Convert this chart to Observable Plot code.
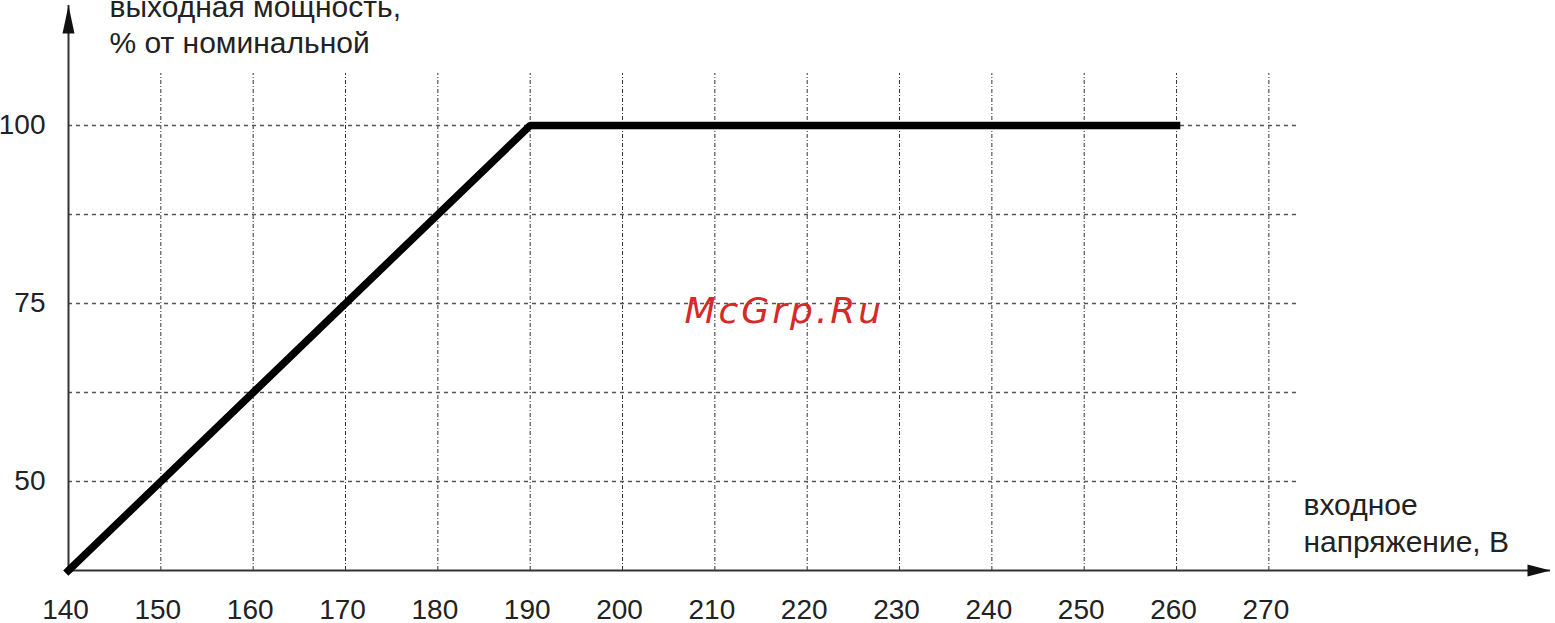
<!DOCTYPE html>
<html>
<head>
<meta charset="utf-8">
<script src="https://cdn.jsdelivr.net/npm/d3@7"></script>
<script src="https://cdn.jsdelivr.net/npm/@observablehq/plot@0.6"></script>
<style>
  html, body { margin: 0; padding: 0; background: #fff; }
  #chart { width: 1555px; height: 623px; overflow: hidden; }
</style>
</head>
<body>
<div id="chart"></div>
<script>
// ---- data ----
const voltage = [140, 190, 260];          // input voltage, V
const power = [37.5, 100, 100];           // output power, % of nominal
const xTicks = [140, 150, 160, 170, 180, 190, 200, 210, 220, 230, 240, 250, 260, 270];
const yTicks = [50, 75, 100];
const xGrid = [150, 160, 170, 180, 190, 200, 210, 220, 230, 240, 250, 260, 270];
const yGrid = [50, 62.5, 75, 87.5, 100];
const xMin = 140, xMax = 300.5;           // x axis extent (arrow tip)
const yMin = 37.5, yMax = 116.85;         // y axis extent (arrow tip)
const xGridEnd = 273.4;                   // horizontal grid lines end
const yGridTop = 107.3;                   // vertical grid lines top
const yTitle = "выходная мощность,\n% от номинальной";
const xTitle = "входное\nнапряжение, В";
const watermark = "McGrp.Ru";

const rows = voltage.map((v, i) => ({v, p: power[i]}));

const upArrow = {draw(ctx) { ctx.moveTo(0, 0); ctx.lineTo(6, 28); ctx.lineTo(-6, 28); ctx.closePath(); }};
const rightArrow = {draw(ctx) { ctx.moveTo(0, 0); ctx.lineTo(-23, -6); ctx.lineTo(-23, 6); ctx.closePath(); }};

const chart = Plot.plot({
  width: 1555,
  height: 623,
  marginLeft: 68,
  marginRight: 5,
  marginTop: 5,
  marginBottom: 53,
  style: {fontFamily: "'Liberation Sans', Arial, sans-serif", color: "#222", background: "#fff"},
  x: {domain: [xMin, xMax], axis: null},
  y: {domain: [yMin, yMax], axis: null},
  marks: [
    Plot.ruleX(xGrid, {y1: yMin, y2: yGridTop, stroke: "#333", strokeWidth: 1, strokeDasharray: "4,2,1,2"}),
    Plot.ruleY(yGrid, {x1: xMin, x2: xGridEnd, stroke: "#555", strokeWidth: 1.6, strokeDasharray: "4,4"}),
    Plot.ruleX([xMin], {y1: yMin, y2: yMax, stroke: "#333", strokeWidth: 2}),
    Plot.ruleY([yMin], {x1: xMin, x2: xMax, stroke: "#333", strokeWidth: 2}),
    Plot.dot([xMin], {x: d => d, y: yMax, symbol: upArrow, fill: "#111", stroke: null}),
    Plot.dot([yMin], {x: xMax, y: d => d, symbol: rightArrow, fill: "#111", stroke: null}),
    Plot.line(rows, {x: "v", y: "p", stroke: "#000", strokeWidth: 7.5, strokeLinejoin: "miter", strokeLinecap: "square"}),
    Plot.axisX({ticks: xTicks, tickSize: 0, tickPadding: 29, fontSize: 28, dx: -3, label: null}),
    Plot.axisY({ticks: yTicks, tickSize: 0, tickPadding: 23, fontSize: 28, label: null}),
    Plot.text([yTitle], {frameAnchor: "top-left", dx: 41, dy: -13.6, text: d => d, textAnchor: "start", lineAnchor: "top", fontSize: 30, lineHeight: 1.2, fill: "#222"}),
    Plot.text([xTitle], {frameAnchor: "top-left", dx: 1235, dy: 483.7, text: d => d, textAnchor: "start", lineAnchor: "top", fontSize: 30, lineHeight: 1.233, fill: "#222"}),
    Plot.text([watermark], {frameAnchor: "top-left", dx: 616, dy: 292, text: d => d, textAnchor: "start", lineAnchor: "top", fontSize: 36, fontStyle: "italic", fontFamily: "'DejaVu Sans', sans-serif", fill: "#d42a2a"})
  ]
});
chart.querySelectorAll("text").forEach(t => {
  if (t.textContent === watermark) t.style.letterSpacing = "3px";
});
document.getElementById("chart").append(chart);
</script>
</body>
</html>
